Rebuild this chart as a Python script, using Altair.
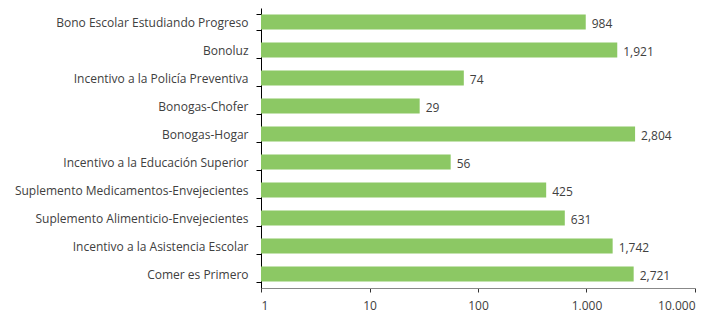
import altair as alt
import pandas as pd

programas = [
    "Bono Escolar  Estudiando  Progreso",
    "Bonoluz",
    "Incentivo a la Policía Preventiva",
    "Bonogas-Chofer",
    "Bonogas-Hogar",
    "Incentivo a la Educación Superior",
    "Suplemento Medicamentos-Envejecientes",
    "Suplemento Alimenticio-Envejecientes",
    "Incentivo a la  Asistencia Escolar",
    "Comer es Primero",
]
valores = [984, 1921, 74, 29, 2804, 56, 425, 631, 1742, 2721]
ticks_x = [1, 10, 100, 1000, 10000]

df = pd.DataFrame({"programa": programas, "valor": valores})

FONT = "Open Sans"
xscale = alt.Scale(type="log", domain=[1, 10000])
y_enc = alt.Y(
    "programa:N",
    sort=programas,
    title=None,
    scale=alt.Scale(paddingInner=0.46, paddingOuter=0.23),
    axis=alt.Axis(
        tickBand="extent",
        domainColor="#000000",
        tickColor="#000000",
        tickSize=5,
        labelPadding=8,
        labelFont=FONT,
        labelFontSize=12,
        labelColor="#404040",
        labelLimit=260,
        minExtent=253,
        maxExtent=253,
    ),
)
x_enc = alt.X(
    "valor:Q",
    title=None,
    scale=xscale,
    axis=alt.Axis(
        values=ticks_x,
        format=",",
        grid=False,
        domainColor="#888888",
        tickColor="#333333",
        tickSize=4,
        labelPadding=8,
        labelFont=FONT,
        labelFontSize=12,
        labelColor="#404040",
    ),
)

bars = alt.Chart(df).mark_bar(color="#8cc864").encode(
    x=x_enc, x2=alt.datum(1), y=y_enc
)
labels = alt.Chart(df).mark_text(
    align="left", baseline="middle", dx=6, dy=2, font=FONT, fontSize=12, color="#404040"
).encode(
    x=alt.X("valor:Q", scale=xscale),
    y=alt.Y("programa:N", sort=programas),
    text=alt.Text("valor:Q", format=","),
)

chart = (
    alt.layer(bars, labels)
    .properties(width=434, height=280, padding={"left": 0, "top": -6, "right": 0, "bottom": 0})
    .configure_view(stroke=None)
)
chart.save("out.html", embed_options={"renderer": "svg", "actions": False})
